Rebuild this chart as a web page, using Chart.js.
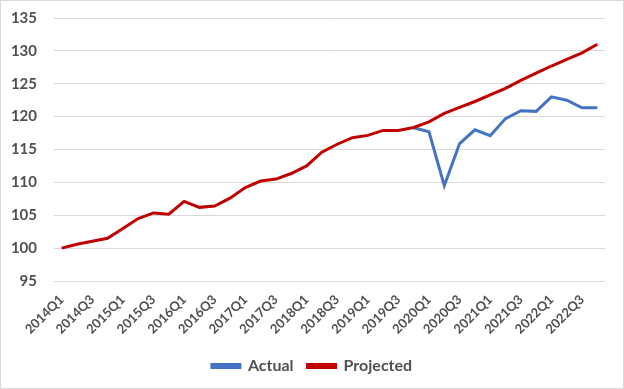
<!DOCTYPE html>
<html lang="en">
<head>
    <meta charset="UTF-8">
    <title>Actual vs Projected</title>
    <script src="https://cdn.jsdelivr.net/npm/chart.js"></script>
    <style>
        body { margin: 0; background: #fff; }
        #wrap { position: relative; width: 624px; height: 389px; }
        #frame { position: absolute; left: 0; top: 0; width: 622px; height: 387px; border: 1px solid #d9d9d9; pointer-events: none; }
    </style>
</head>
<body>
<div id="wrap">
    <canvas id="grafica" width="624" height="389"></canvas>
    <div id="frame"></div>
</div>
<script>
    const quarters = [
        "2014Q1","2014Q2","2014Q3","2014Q4","2015Q1","2015Q2","2015Q3","2015Q4",
        "2016Q1","2016Q2","2016Q3","2016Q4","2017Q1","2017Q2","2017Q3","2017Q4",
        "2018Q1","2018Q2","2018Q3","2018Q4","2019Q1","2019Q2","2019Q3","2019Q4",
        "2020Q1","2020Q2","2020Q3","2020Q4","2021Q1","2021Q2","2021Q3","2021Q4",
        "2022Q1","2022Q2","2022Q3","2022Q4"
    ];
    const actual = [
        null, null, null, null, null, null, null, null,
        null, null, null, null, null, null, null, null,
        null, null, null, null, null, null, null, 118.3,
        117.7, 109.5, 115.9, 118.0, 117.1, 119.7, 120.9, 120.8,
        123.0, 122.5, 121.35, 121.35
    ];
    const projected = [
        100.0, 100.6, 101.05, 101.5, 103.0, 104.5, 105.35, 105.15,
        107.1, 106.2, 106.4, 107.6, 109.2, 110.2, 110.5, 111.35,
        112.5, 114.6, 115.8, 116.8, 117.15, 117.9, 117.9, 118.35,
        119.2, 120.5, 121.4, 122.3, 123.3, 124.3, 125.5, 126.6,
        127.7, 128.7, 129.7, 131.0
    ];

    const gris = "#505050";
    const fuente = "Lato, 'Open Sans', sans-serif";

    new Chart(document.getElementById("grafica"), {
        type: "line",
        data: {
            labels: quarters,
            datasets: [
                { label: "Actual", data: actual, borderColor: "#4472C4", backgroundColor: "#4472C4",
                  borderWidth: 3, pointRadius: 0, tension: 0, order: 1 },
                { label: "Projected", data: projected, borderColor: "#C00000", backgroundColor: "#C00000",
                  borderWidth: 3, pointRadius: 0, tension: 0, order: 0 }
            ]
        },
        options: {
            responsive: false,
            animation: false,
            layout: { padding: { left: 0, right: 0, top: 3, bottom: 5 } },
            plugins: {
                tooltip: { enabled: false },
                legend: {
                    position: "bottom",
                    labels: {
                        color: gris,
                        font: { family: fuente, size: 16, weight: "bold" },
                        boxWidth: 28,
                        boxHeight: 3,
                        padding: 14,
                        sort: (a, b) => a.datasetIndex - b.datasetIndex
                    }
                }
            },
            scales: {
                x: {
                    offset: true,
                    grid: { display: false },
                    border: { display: false },
                    ticks: {
                        autoSkip: false,
                        maxRotation: 45,
                        minRotation: 45,
                        padding: 3,
                        color: gris,
                        font: { family: fuente, size: 13, weight: "bold" },
                        callback: function (v, i) { return i % 2 === 0 ? this.getLabelForValue(v) : ""; }
                    },
                    afterFit: s => { s.height = 63; }
                },
                y: {
                    min: 95,
                    max: 135,
                    grid: { color: "#d9d9d9", lineWidth: 1, drawTicks: true, tickLength: 8, tickColor: "transparent" },
                    border: { display: false },
                    ticks: {
                        stepSize: 5,
                        padding: 9,
                        color: gris,
                        font: { family: fuente, size: 15, weight: "bold" }
                    },
                    afterFit: s => { s.width = 54; }
                },
                derecha: {
                    position: "right",
                    grid: { display: false },
                    border: { display: false },
                    ticks: { display: false },
                    afterFit: s => { s.width = 19; }
                }
            }
        }
    });
</script>
</body>
</html>
